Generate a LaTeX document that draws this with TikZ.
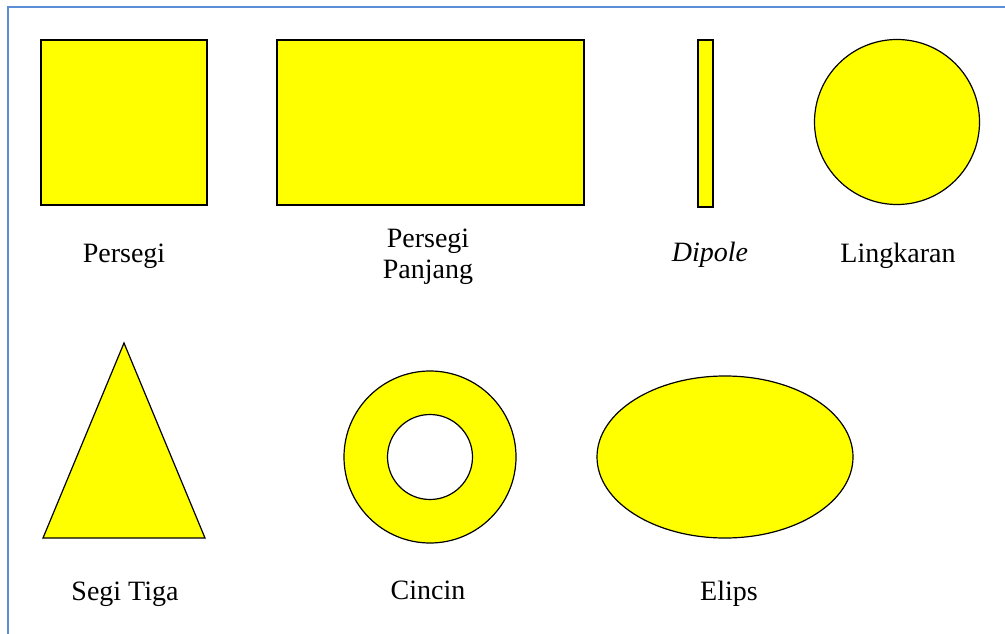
\documentclass[tikz,border=0pt]{standalone}
\usepackage{fontspec}
\setmainfont{Liberation Serif}
\usepackage{tikz}
\usetikzlibrary{positioning}

\definecolor{frameblue}{RGB}{92,142,214}
\definecolor{shapeyellow}{RGB}{255,255,0}

\tikzset{
    yellowshape/.style={fill=shapeyellow, draw=black, line width=0.9pt},
    caption/.style={font=\fontsize{21}{24}\selectfont, align=center, inner sep=0pt, anchor=base}
}

\begin{document}
\begin{tikzpicture}[x=0.75pt, y=-0.75pt]

    \useasboundingbox (0, 0) rectangle (1005, 634);

    % Frame on the left and on top
    \draw[frameblue, line width=2.2pt] (8, 634) -- (8, 7) -- (1005, 7);

    % Top row of shapes
    \draw[yellowshape, line width=1.3pt] (41, 40) rectangle (207, 205);
    \draw[yellowshape] (277, 40) rectangle (584, 205);
    \draw[yellowshape] (698, 40) rectangle (713, 207);
    \draw[yellowshape] (897, 122) circle (82.5);

    % Bottom row of shapes
    \draw[yellowshape] (124, 343) -- (205, 538) -- (43, 538) -- cycle;
    \draw[yellowshape, even odd rule] (430, 457) circle (86) (430, 457) circle (42.5);
    \draw[yellowshape] (725, 457) ellipse (128 and 81);

    % Labels (placed at their baselines)
    \node[caption] (persegi) at (124, 263) {Persegi};
    \node[caption] (panjang) at (428, 279) {Persegi\\Panjang};
    \node[caption] (dipole) at (710, 262) {\itshape Dipole};
    \node[caption] (lingkaran) at (898, 263) {Lingkaran};
    \node[caption] (segitiga) at (125, 600) {Segi Tiga};
    \node[caption] (cincin) at (428, 599) {Cincin};
    \node[caption] (elips) at (729, 600) {Elips};

\end{tikzpicture}
\end{document}
